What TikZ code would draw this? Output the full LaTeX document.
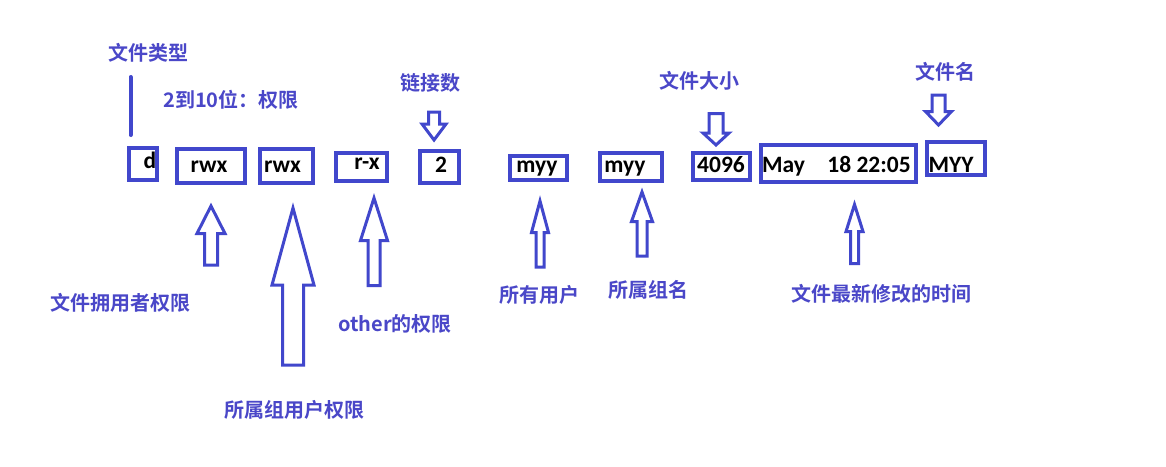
\documentclass[tikz,border=0pt]{standalone}
\usepackage{fontspec}
\setmainfont{Carlito}
\newfontfamily\cjk{Noto Sans CJK SC}[BoldFont={Noto Sans CJK SC Bold}]
\definecolor{ink}{HTML}{4147CC}
\definecolor{lab}{HTML}{4A47C8}
\begin{document}
\begin{tikzpicture}[x=1pt,y=-1pt,
  box/.style={draw=ink,line width=4pt,rectangle,inner sep=0pt},
  val/.style={anchor=base,inner sep=0pt,font=\fontsize{23.5}{26}\selectfont\bfseries,text=black},
  lbl/.style={inner sep=0pt,font=\cjk\bfseries\fontsize{20}{22}\selectfont,text=lab},
  blk/.style={draw=ink,line width=3pt,line join=miter,fill=white}]
\useasboundingbox[fill=white] (0,0) rectangle (1166,466);
\newcommand\blockarr[6]{%
  \draw[blk] (#1,#2) -- ({#1+#4},#3) -- ({#1+#5},#3) -- ({#1+#5},#6) -- ({#1-#5},#6) -- ({#1-#5},#3) -- ({#1-#4},#3) -- cycle;}

% boxes
\node[box,minimum width=28pt,minimum height=32pt] (bd) at (143,164) {};
\node[box,minimum width=68pt,minimum height=34pt] (bu) at (211,166) {};
\node[box,minimum width=53pt,minimum height=34pt] (bg) at (286.5,166) {};
\node[box,minimum width=51pt,minimum height=28pt] (bo) at (361.5,167) {};
\node[box,minimum width=39pt,minimum height=32pt] (bl) at (439.5,167) {};
\node[box,minimum width=57pt,minimum height=24pt] (bm1) at (538.5,168) {};
\node[box,minimum width=62pt,minimum height=28pt] (bm2) at (631,167) {};
\node[box,minimum width=57pt,minimum height=27pt] (bs) at (721.5,166.5) {};
\node[box,minimum width=155pt,minimum height=37pt] (bt) at (838.5,163.5) {};
\node[box,minimum width=58pt,minimum height=33pt] (bn) at (956,158.5) {};

% values
\node[val] (vd) at (150,168) {d};
\node[val] (vu) at (209,172) {rwx};
\node[val] (vg) at (282.5,172) {rwx};
\node[val] (vo) at (367,169) {r-x};
\node[val] (vl) at (441,172) {2};
\node[val] (vm1) at (537,172) {myy};
\node[val] (vm2) at (625,172) {myy};
\node[val] (vs) at (721,172) {4096};
\node[val] (vt1) at (783.5,172) {May};
\node[val] (vt2) at (869,172) {18 22:05};
\node[val] (vn) at (951,172) {MYY};

% labels
\node[lbl] (ltype) at (148,53) {文件类型};
\node[lbl] (lperm) at (231,100) {2到10位：权限};
\node[lbl] (llink) at (430,83) {链接数};
\node[lbl] (lsize) at (699,81) {文件大小};
\node[lbl] (lname) at (945,72) {文件名};
\node[lbl] (lown) at (120,303) {文件拥用者权限};
\node[lbl] (loth) at (395,324) {other的权限};
\node[lbl] (lgrp) at (294,410) {所属组用户权限};
\node[lbl] (lusr) at (539,295) {所有用户};
\node[lbl] (lgn) at (648,290) {所属组名};
\node[lbl] (ltime) at (881,294) {文件最新修改的时间};

% type marker line
\coordinate (ta) at (130.5,77);
\coordinate (tb) at (130.5,135);
\draw[ink,line width=4pt,line cap=round] (ta) -- (tb);

% down arrows
\blockarr{434}{140}{124}{12}{5.5}{112}
\blockarr{716}{145}{133}{13}{7}{113.5}
\blockarr{938.5}{125}{111.5}{13}{6.5}{95}
% up arrows
\blockarr{211}{206}{233.5}{14}{6.5}{265}
\blockarr{293}{208}{285}{21}{10.5}{365}
\blockarr{374}{198}{240.5}{13.5}{6}{285.5}
\blockarr{540}{201}{232.5}{8.5}{4}{267}
\blockarr{642}{192}{221.5}{10.5}{5}{256}
\blockarr{854.5}{204.5}{231.5}{8.5}{4}{263.5}
\end{tikzpicture}
\end{document}
